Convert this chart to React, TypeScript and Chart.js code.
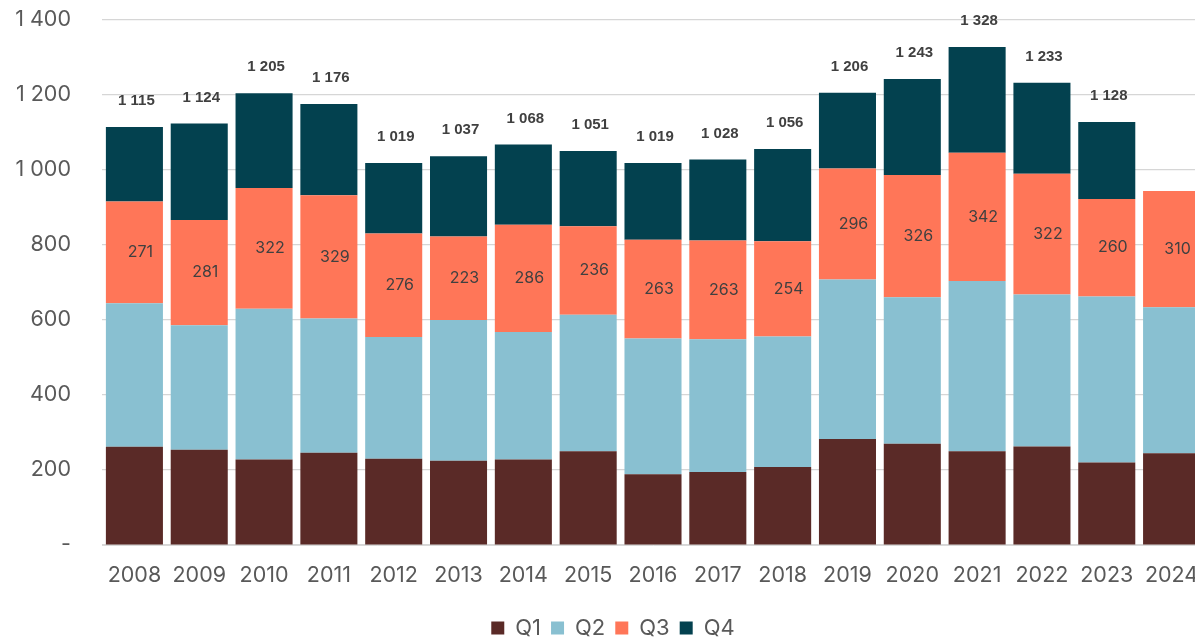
import React, { useEffect, useRef } from 'react';
import { Chart, registerables } from 'chart.js';

Chart.register(...registerables);

const years = ['2008', '2009', '2010', '2011', '2012', '2013', '2014', '2015', '2016', '2017', '2018', '2019', '2020', '2021', '2022', '2023', '2024'];
const q1 = [262, 254, 228, 246, 230, 225, 228, 250, 189, 195, 208, 283, 270, 250, 263, 220, 245];
const q2 = [383, 332, 402, 358, 325, 375, 340, 364, 362, 354, 348, 425, 391, 454, 405, 443, 389];
const q3 = [271, 281, 322, 329, 276, 223, 286, 236, 263, 263, 254, 296, 326, 342, 322, 260, 310];
const q4: (number | null)[] = [199, 257, 253, 243, 188, 214, 214, 201, 205, 216, 246, 202, 256, 282, 243, 205, null];
const seriesNames = ['Q1', 'Q2', 'Q3', 'Q4'];
const seriesColors = ['#5a2a27', '#89c0d1', '#ff7658', '#03414f'];

const FONT = 'Inter, "Noto Sans", sans-serif';
const BOLD_FONT = '"Liberation Sans", Arial, sans-serif';

const fmt = (n: number) => (n === 0 ? '-' : String(n).replace(/\B(?=(\d{3})+(?!\d))/g, ' '));

const labelPlugin = {
  id: 'barLabels',
  afterDatasetsDraw(chart: any) {
    const ctx = chart.ctx;
    const m3 = chart.getDatasetMeta(2);
    const m4 = chart.getDatasetMeta(3);
    ctx.save();
    ctx.textAlign = 'center';
    ctx.textBaseline = 'middle';
    ctx.fillStyle = '#404040';
    ctx.font = `16px ${FONT}`;
    m3.data.forEach((el: any, i: number) => {
      const p = el.getProps(['x', 'y', 'base'], true);
      ctx.fillText(String(q3[i]), p.x + 6, (p.y + p.base) / 2);
    });
    ctx.font = `bold 15px ${BOLD_FONT}`;
    m4.data.forEach((el: any, i: number) => {
      const v = q4[i];
      if (v == null) return;
      const p = el.getProps(['x', 'y'], true);
      const total = q1[i] + q2[i] + q3[i] + v;
      ctx.fillText(fmt(total), p.x + 2, p.y - 26);
    });
    ctx.restore();
  },
};

export default function App() {
  const ref = useRef<HTMLCanvasElement | null>(null);
  useEffect(() => {
    if (!ref.current) return;
    const data = [q1, q2, q3, q4];
    const chart = new Chart(ref.current, {
      type: 'bar',
      data: {
        labels: years,
        datasets: data.map((d, i) => ({
          label: seriesNames[i],
          data: d as any,
          backgroundColor: seriesColors[i],
          borderWidth: 0,
          barPercentage: 0.88,
          categoryPercentage: 1,
        })),
      },
      options: {
        responsive: false,
        animation: false,
        layout: { padding: { top: 20, right: 0, left: 0, bottom: 0 } },
        plugins: {
          tooltip: { enabled: false },
          legend: {
            position: 'bottom',
            labels: {
              boxWidth: 13,
              boxHeight: 13,
              padding: 10,
              color: '#595959',
              font: { family: FONT, size: 22 },
            },
          },
        },
        scales: {
          x: {
            stacked: true,
            grid: { display: false },
            border: { display: true, color: '#d9d9d9', width: 1 },
            ticks: { color: '#595959', font: { family: FONT, size: 21.5 }, padding: 10 },
            afterFit: (s: any) => {
              s.height = 62;
              s.paddingLeft = 0;
              s.paddingRight = 22;
            },
          },
          y: {
            stacked: true,
            min: 0,
            max: 1400,
            ticks: {
              stepSize: 200,
              color: '#595959',
              font: { family: FONT, size: 21.5 },
              padding: 31,
              callback: (v: any) => fmt(Number(v)),
            },
            grid: { color: '#d6d6d6', lineWidth: 1.2, drawTicks: false },
            border: { display: false },
            afterFit: (s: any) => {
              s.width = 102;
              s.paddingTop = 0;
              s.paddingBottom = 0;
            },
          },
        },
      },
      plugins: [labelPlugin],
    });
    return () => chart.destroy();
  }, []);
  return (
    <div style={{ position: 'fixed', left: 0, top: 0, width: 1195, height: 639, overflow: 'hidden', background: '#fff' }}>
      <canvas ref={ref} width={1226} height={649} style={{ width: 1226, height: 649, display: 'block' }} />
    </div>
  );
}
